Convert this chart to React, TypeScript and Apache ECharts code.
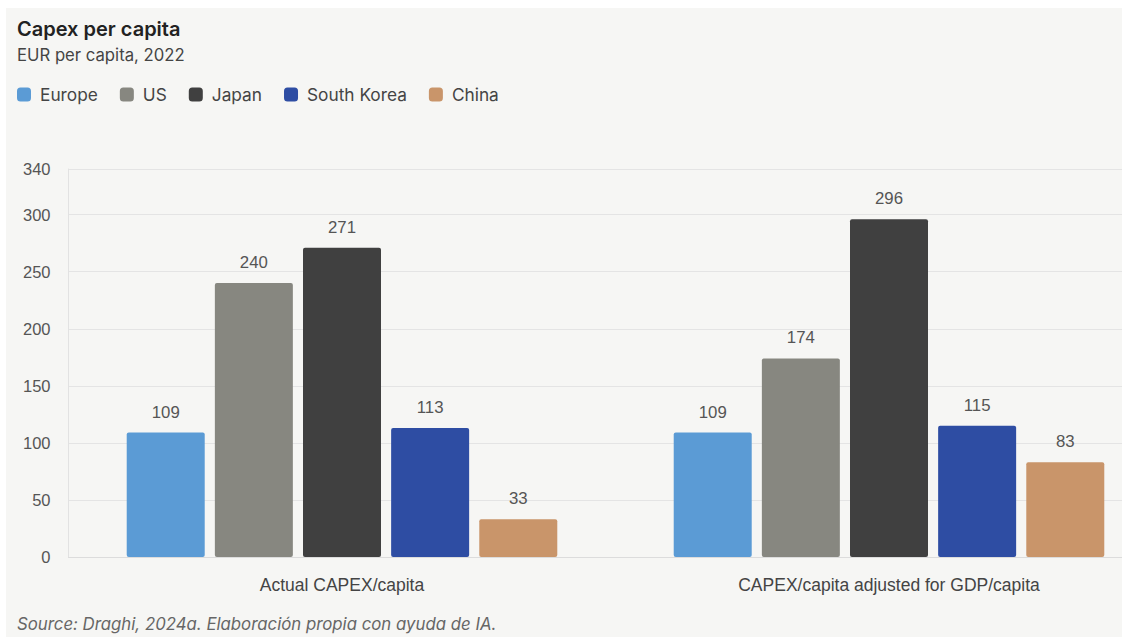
import React, { useEffect, useRef } from "react";
import * as echarts from "echarts";

const categories = ["Actual CAPEX/capita", "CAPEX/capita adjusted for GDP/capita"];
const seriesNames = ["Europe", "US", "Japan", "South Korea", "China"];
const europe = [109, 109];
const us = [240, 174];
const japan = [271, 296];
const southKorea = [113, 115];
const china = [33, 83];
const colors = ["#5b9bd5", "#878780", "#404040", "#2e4da3", "#c9956a"];
const yMax = 340;
const yInterval = 50;

const CHART_W = 1170;

export default function App() {
  const ref = useRef<HTMLDivElement>(null);
  useEffect(() => {
    if (!ref.current) return;
    const chart = echarts.init(ref.current, undefined, { renderer: "svg" });
    const values = [europe, us, japan, southKorea, china];
    chart.setOption({
      animation: false,
      backgroundColor: "#ffffff",
      graphic: [
        {
          type: "rect",
          z: -10,
          shape: { x: 6, y: 8, width: CHART_W, height: 640 },
          style: { fill: "#f6f6f4" },
          silent: true,
        },
        {
          type: "text",
          x: 17,
          y: 29,
          style: {
            text: "Capex per capita",
            fontSize: 20,
            fontWeight: 600,
            fontFamily: "Inter",
            fill: "#222",
            verticalAlign: "middle",
          },
        },
        {
          type: "text",
          x: 17,
          y: 55,
          style: {
            text: "EUR per capita, 2022",
            fontSize: 16.7,
            fontFamily: "Inter",
            fill: "#444",
            verticalAlign: "middle",
          },
        },
        {
          type: "text",
          x: 17,
          y: 624,
          style: {
            text: "Source: Draghi, 2024a. Elaboración propia con ayuda de IA.",
            fontSize: 16.8,
            fontStyle: "italic",
            fontFamily: "Inter",
            fill: "#666",
            verticalAlign: "middle",
          },
        },
      ],
      legend: {
        left: 17,
        top: 86,
        padding: 0,
        icon: "roundRect",
        itemWidth: 14,
        itemHeight: 14,
        itemGap: 22,
        textStyle: {
          fontSize: 17.3,
          color: "#444",
          fontFamily: "Inter",
          padding: [0, 0, 0, 4],
        },
        data: seriesNames,
      },
      grid: { left: 68.5, right: CHART_W - 1162.5, top: 169, bottom: 80, containLabel: false },
      xAxis: {
        type: "category",
        data: categories,
        axisLine: { lineStyle: { color: "#dcdcdc" } },
        axisTick: { show: false },
        axisLabel: { fontSize: 17.5, color: "#444", margin: 19, fontFamily: "Liberation Sans" },
      },
      yAxis: {
        type: "value",
        min: 0,
        max: yMax,
        interval: yInterval,
        axisLine: { show: true, lineStyle: { color: "#e2e2e2" } },
        axisTick: { show: false },
        axisLabel: { fontSize: 16.5, color: "#555", margin: 18, fontFamily: "Liberation Sans" },
        splitLine: { lineStyle: { color: "#e4e4e4" } },
      },
      series: seriesNames.map((name, i) => ({
        name,
        type: "bar",
        data: values[i],
        barWidth: 78,
        barGap: "13%",
        itemStyle: { color: colors[i], borderRadius: 2 },
        label: {
          show: true,
          position: "top",
          distance: 12,
          fontSize: 16.8,
          color: "#555",
          fontFamily: "Liberation Sans",
        },
      })),
    });
    return () => chart.dispose();
  }, []);
  return (
    <div
      style={{
        position: "fixed",
        left: 0,
        top: 0,
        width: 1122,
        height: 637,
        overflow: "hidden",
      }}
    >
      <div ref={ref} style={{ width: CHART_W, height: 637 }} />
    </div>
  );
}
